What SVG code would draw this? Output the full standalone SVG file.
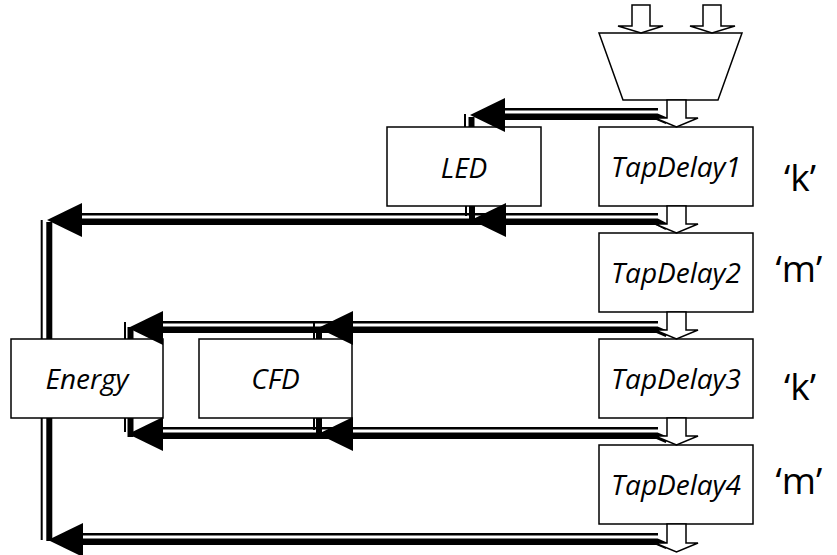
<svg xmlns="http://www.w3.org/2000/svg" width="837" height="555" viewBox="0 0 837 555">
<style>
.box{fill:#fff;stroke:#000;stroke-width:1.5}
.lbl{font-family:"Open Sans","Noto Sans","Liberation Sans",sans-serif;font-style:italic;font-size:28px;text-anchor:middle;fill:#000}
.side{font-family:"Open Sans","Noto Sans","Liberation Sans",sans-serif;font-size:37px;text-anchor:middle;fill:#000}
.blk{fill:#fff;stroke:#000;stroke-width:1.5;stroke-linejoin:miter}
.thin{fill:none;stroke:#000;stroke-width:2.5}
.thick{fill:none;stroke:#000;stroke-width:6.5}
.vthin{fill:none;stroke:#000;stroke-width:2}
.vthick{fill:none;stroke:#000;stroke-width:6}
.head{fill:#000;stroke:none}
</style>
<rect width="837" height="555" fill="#fff"/>

<g id="mux">
<polygon class="box" points="599,33 742,33 718,100 623,100"/>
</g>
<g id="led"><rect class="box" x="387" y="127" width="154" height="79"/><text class="lbl" x="464" y="177.5">LED</text></g>
<g id="tapdelay1"><rect class="box" x="599" y="127" width="154" height="79"/><text class="lbl" x="676" y="177">TapDelay1</text></g>
<g id="tapdelay2"><rect class="box" x="599" y="233" width="154" height="79"/><text class="lbl" x="676" y="283">TapDelay2</text></g>
<g id="tapdelay3"><rect class="box" x="599" y="339" width="154" height="79"/><text class="lbl" x="676" y="389">TapDelay3</text></g>
<g id="tapdelay4"><rect class="box" x="599" y="445" width="154" height="79"/><text class="lbl" x="676" y="495">TapDelay4</text></g>
<g id="energy"><rect class="box" x="11" y="339" width="152" height="79"/><text class="lbl" x="87" y="389">Energy</text></g>
<g id="cfd"><rect class="box" x="199" y="339" width="153" height="79"/><text class="lbl" x="275.5" y="389">CFD</text></g>

<g id="labels">
<text class="side" x="800" y="191">‘k’</text>
<text class="side" x="799" y="282">‘m’</text>
<text class="side" x="800" y="400">‘k’</text>
<text class="side" x="799" y="494">‘m’</text>
</g>

<g id="connectors">
<path class="thin" d="M658 109.25H500"/>
<path class="thick" d="M667 121L657 116.75H485"/>
<path class="vthin" d="M465 114V127"/>
<path class="vthick" d="M471.5 117V127"/>
<polygon class="head" points="470,115 505,98 505,132"/>

<path class="thin" d="M658 214.25H80"/>
<path class="thick" d="M667 227L657 221.75H70"/>
<path class="vthin" d="M466 206V216"/>
<path class="vthick" d="M472 206V224"/>
<polygon class="head" points="471,220 506,203 506,237"/>
<polygon class="head" points="47,220 82,203 82,237"/>
<path class="vthin" d="M41.7 220V339M41.7 418V540"/>
<path class="vthick" d="M49.3 222V339M49.3 418V541"/>

<path class="thin" d="M658 322.25H163"/>
<path class="thick" d="M667 334L657 329.75H150"/>
<path class="vthin" d="M314 322V339M125 322V339"/>
<path class="vthick" d="M319 327V339M130.5 327V339"/>
<polygon class="head" points="318,328 353,311 353,345"/>
<polygon class="head" points="128,328 163,311 163,345"/>

<path class="thin" d="M658 428.25H163"/>
<path class="thick" d="M667 440L657 435.75H150"/>
<path class="vthin" d="M314 418V430M125 418V432"/>
<path class="vthick" d="M319 418V436M130.5 418V437"/>
<polygon class="head" points="318,434 353,417 353,451"/>
<polygon class="head" points="128,434 163,417 163,451"/>

<path class="thin" d="M658 534.25H82"/>
<path class="thick" d="M667 546L657 541.75H70"/>
<polygon class="head" points="48,540 83,523 83,557"/>

<path class="blk" d="M632 5H650V26H663L641 33L618 26H632Z"/>
<path class="blk" d="M703 5H721V26H735L712 33L690 26H703Z"/>
<path class="blk" d="M667 100H686V118H698L676.5 127L655 118H667Z"/>
<path class="blk" d="M667 206H686V224H698L676.5 233L655 224H667Z"/>
<path class="blk" d="M667 312H686V330H698L676.5 339L655 330H667Z"/>
<path class="blk" d="M667 418H686V436H698L676.5 445L655 436H667Z"/>
<path class="blk" d="M667 524H686V543H698L676.5 552L655 543H667Z"/>
</g>
</svg>
